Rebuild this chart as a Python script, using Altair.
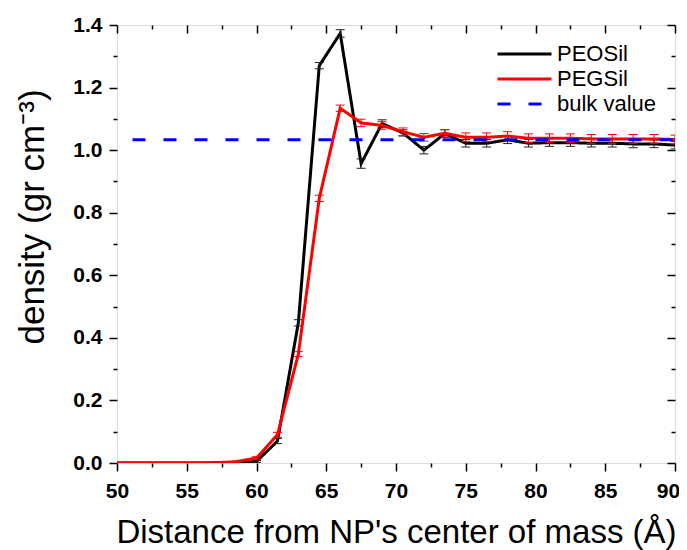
import altair as alt
import pandas as pd

# ---- data ----
distance = [49.5, 51, 52.5, 54, 55.5, 57, 58.5, 60, 61.5, 63, 64.5, 66, 67.5, 69,
            70.5, 72, 73.5, 75, 76.5, 78, 79.5, 81, 82.5, 84, 85.5, 87, 88.5, 90]
peosil = [0, 0, 0, 0, 0, 0.0005, 0.002, 0.005, 0.07, 0.448, 1.27, 1.373, 0.957, 1.085,
          1.055, 1.0, 1.053, 1.022, 1.022, 1.033, 1.022, 1.024, 1.024, 1.022, 1.022,
          1.02, 1.02, 1.016]
peosil_err = [0, 0, 0, 0, 0, 0, 0.001, 0.003, 0.008, 0.01, 0.01, 0.012, 0.015, 0.012,
              0.01, 0.012, 0.012, 0.012, 0.012, 0.012, 0.012, 0.012, 0.012, 0.012, 0.012,
              0.012, 0.012, 0.012]
pegsil = [0, 0, 0, 0, 0, 0.0008, 0.004, 0.016, 0.09, 0.348, 0.846, 1.134, 1.087, 1.079,
          1.059, 1.041, 1.054, 1.041, 1.041, 1.045, 1.038, 1.038, 1.038, 1.036, 1.036,
          1.036, 1.036, 1.034]
pegsil_err = [0, 0, 0, 0, 0, 0, 0.001, 0.004, 0.008, 0.008, 0.01, 0.01, 0.012, 0.012,
              0.012, 0.012, 0.012, 0.014, 0.014, 0.014, 0.014, 0.014, 0.014, 0.014, 0.014,
              0.014, 0.014, 0.014]
bulk_value = 1.033

series_names = ["PEOSil", "PEGSil", "bulk value"]
series_colors = ["black", "red", "blue"]

x_major = [50, 55, 60, 65, 70, 75, 80, 85, 90]
x_minor = [52.5, 57.5, 62.5, 67.5, 72.5, 77.5, 82.5, 87.5]
y_major = [0.0, 0.2, 0.4, 0.6, 0.8, 1.0, 1.2, 1.4]
y_minor = [0.1, 0.3, 0.5, 0.7, 0.9, 1.1, 1.3]

x_title = "Distance from NP's center of mass (Å)"
y_title = "density (gr cm⁻³)"

# ---- tables ----
def series_df(name, ys, es):
    return pd.DataFrame({
        "series": name, "x": distance, "y": ys,
        "lo": [a - b for a, b in zip(ys, es)],
        "hi": [a + b for a, b in zip(ys, es)],
    })

df_peo = series_df("PEOSil", peosil, peosil_err)
df_peg = series_df("PEGSil", pegsil, pegsil_err)
df_bulk = pd.DataFrame({"series": ["bulk value", "bulk value"],
                        "x": [x_major[0], x_major[-1]],
                        "y": [bulk_value, bulk_value]})

W, H = 558, 438
FONT = "Liberation Sans"

xs = alt.Scale(domain=[x_major[0], x_major[-1]], nice=False, zero=False)
ys = alt.Scale(domain=[y_major[0], y_major[-1]], nice=False, zero=False)
color_scale = alt.Scale(domain=series_names, range=series_colors)
dash_scale = alt.Scale(domain=series_names, range=[[1, 0], [1, 0], [13, 18]])

tick_common = dict(domain=False, grid=False, tickColor="black", tickWidth=1.5)

ax_bottom_major = alt.Axis(orient="bottom", values=x_major, tickSize=8, format="d",
                           labelFont=FONT, labelFontSize=21, labelFontWeight="bold",
                           labelColor="black", labelPadding=9, labelFlush=False,
                           labelOffset={"condition": {"test": f"datum.value == {x_major[-1]}",
                                                      "value": -7}, "value": 0},
                           title=x_title, titleFont=FONT, titleFontSize=33,
                           titleFontWeight="normal", titleColor="black",
                           titleBaseline="alphabetic", titleY=79, **tick_common)
ax_bottom_minor = alt.Axis(orient="bottom", values=x_minor, tickSize=4, labels=False,
                           title=None, **tick_common)
ax_top_major = alt.Axis(orient="bottom", offset=-H, values=x_major, tickSize=8,
                        labels=False, title=None, **tick_common)
ax_top_minor = alt.Axis(orient="bottom", offset=-H, values=x_minor, tickSize=4,
                        labels=False, title=None, **tick_common)
ax_left_major = alt.Axis(orient="left", values=y_major, tickSize=8, format=".1f",
                         labelFont=FONT, labelFontSize=21, labelFontWeight="bold",
                         labelColor="black", labelPadding=7, labelFlush=False,
                         title=y_title, titleFont=FONT, titleFontSize=35,
                         titleFontWeight="normal", titleColor="black",
                         titleBaseline="alphabetic", titleX=-74, titleY=191.5,
                         **tick_common)
ax_left_minor = alt.Axis(orient="left", values=y_minor, tickSize=4, labels=False,
                         title=None, **tick_common)
ax_right_major = alt.Axis(orient="left", offset=-W, values=y_major, tickSize=8,
                          labels=False, title=None, **tick_common)
ax_right_minor = alt.Axis(orient="left", offset=-W, values=y_minor, tickSize=4,
                          labels=False, title=None, **tick_common)

# custom wide stroke symbol: small nominal size keeps legend rows compact
legend = alt.Legend(title=None, orient="none", legendX=396.5, legendY=18,
                    symbolType="M-6,0H6", symbolSize=81, symbolStrokeWidth=3,
                    labelFont=FONT, labelFontSize=22, labelColor="black",
                    labelOffset=21.5, rowPadding=3, padding=0)


def enc_xy(xaxis, yaxis, yfield="y"):
    return dict(x=alt.X("x:Q", scale=xs, axis=xaxis),
                y=alt.Y(f"{yfield}:Q", scale=ys, axis=yaxis))


def enc_style():
    return dict(color=alt.Color("series:N", scale=color_scale, legend=legend),
                strokeDash=alt.StrokeDash("series:N", scale=dash_scale, legend=legend))


line_peo = alt.Chart(df_peo).mark_line(strokeWidth=3, clip=True).encode(
    **enc_xy(ax_bottom_major, ax_left_major), **enc_style())
line_peg = alt.Chart(df_peg).mark_line(strokeWidth=3, clip=True).encode(
    **enc_xy(ax_bottom_minor, ax_left_minor), **enc_style())
line_bulk = alt.Chart(df_bulk).mark_line(strokeWidth=3, clip=True,
                                         strokeDashOffset=15.5).encode(
    **enc_xy(None, None), **enc_style())


def err_layers(df, color, xaxis, yaxis):
    rule = alt.Chart(df).mark_rule(color=color, strokeWidth=1, clip=True).encode(
        x=alt.X("x:Q", scale=xs, axis=xaxis),
        y=alt.Y("lo:Q", scale=ys, axis=yaxis),
        y2="hi:Q")
    caps = alt.Chart(df).transform_fold(["lo", "hi"], as_=["end", "yy"]).mark_tick(
        orient="horizontal", size=9, thickness=1, color=color, opacity=1, clip=True
    ).encode(x=alt.X("x:Q", scale=xs, axis=None),
             y=alt.Y("yy:Q", scale=ys, axis=None))
    return rule, caps


err_peo_rule, err_peo_caps = err_layers(df_peo, "#222222", ax_top_major, ax_right_major)
err_peg_rule, err_peg_caps = err_layers(df_peg, "red", ax_top_minor, ax_right_minor)

chart = alt.layer(
    line_peo, err_peo_rule, err_peo_caps,
    line_peg, err_peg_rule, err_peg_caps,
    line_bulk,
).resolve_scale(x="independent", y="independent").properties(
    width=W, height=H,
    autosize=alt.AutoSizeParams(type="none"),
    padding={"left": 109, "top": 17, "right": 4, "bottom": 87},
).configure_view(stroke="black", strokeWidth=1.5).configure(background="white")

chart.save("out.html", embed_options={"renderer": "svg", "actions": False})
